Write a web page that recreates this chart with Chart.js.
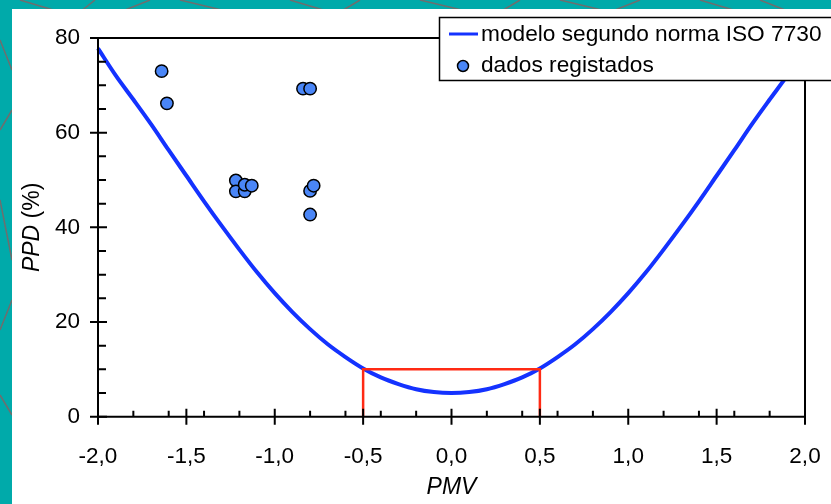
<!DOCTYPE html>
<html>
<head>
<meta charset="utf-8">
<script src="https://cdn.jsdelivr.net/npm/chart.js@4.4.1/dist/chart.umd.min.js"></script>
<style>
    html, body { margin: 0; padding: 0; background: #00aaaa; }
    #wrap { position: relative; width: 831px; height: 504px; }
</style>
</head>
<body>
<div id="wrap"><canvas id="ppdChart" width="831" height="504"></canvas></div>
<script>
// curve (PMV -> PPD)
const pmvCurve = [-2.0, -1.9, -1.8, -1.7, -1.6, -1.5, -1.4, -1.3, -1.2, -1.1, -1.0,
    -0.9, -0.8, -0.7, -0.6, -0.5, -0.4, -0.3, -0.2, -0.1, 0.0,
    0.1, 0.2, 0.3, 0.4, 0.5, 0.6, 0.7, 0.8, 0.9, 1.0,
    1.1, 1.2, 1.3, 1.4, 1.5, 1.6, 1.7, 1.8, 1.9, 2.0];
const ppdCurve = [77.8, 72.1, 67.0, 61.8, 56.3, 50.9, 45.5, 40.3, 35.3, 30.5, 26.1,
    22.1, 18.5, 15.3, 12.6, 10.2, 8.3, 6.9, 5.8, 5.2, 5.0,
    5.2, 5.8, 6.9, 8.3, 10.2, 12.6, 15.3, 18.5, 22.1, 26.1,
    30.5, 35.3, 40.3, 45.5, 50.9, 56.3, 61.8, 67.0, 72.1, 77.8];

// measured points
const pmvData = [-1.64, -1.61, -1.22, -1.22, -1.17, -1.17, -1.13, -0.84, -0.80, -0.80, -0.78, -0.80];
const ppdData = [73.0, 66.2, 49.9, 47.6, 47.6, 49.0, 48.8, 69.3, 69.3, 47.7, 48.8, 42.7];

// comfort box (PMV +-0.5, PPD 10 %)
const boxPmv = [-0.5, -0.5, 0.5, 0.5];
const boxPpd = [0, 10, 10, 0];

const xMajorTicks = [-2.0, -1.5, -1.0, -0.5, 0.0, 0.5, 1.0, 1.5, 2.0];
const xMinorTicks = [-1.8, -1.6, -1.4, -1.2, -0.8, -0.6, -0.4, -0.2, 0.2, 0.4, 0.6, 0.8, 1.2, 1.4, 1.6, 1.8];
const yMajorTicks = [0, 20, 40, 60, 80];
const yMinorTicks = [5, 10, 15, 25, 30, 35, 45, 50, 55, 65, 70, 75];

const labelCurve = "modelo segundo norma ISO 7730";
const labelPoints = "dados registados";

const FONT = "'Liberation Sans', Arial, sans-serif";
const fmt = v => v.toFixed(1).replace(".", ",");

const toXY = (xs, ys) => xs.map((x, i) => ({ x: x, y: ys[i] }));

// teal backdrop with a few grey strokes, white panel on top
const backdrop = {
    id: "backdrop",
    beforeDraw(chart) {
        const ctx = chart.ctx;
        ctx.save();
        ctx.fillStyle = "#00aaaa";
        ctx.fillRect(0, 0, chart.width, chart.height);
        ctx.strokeStyle = "#6e6e6e";
        ctx.lineWidth = 1.5;
        const lines = [[20, 0, 60, 12], [95, 0, 80, 12], [150, 0, 120, 12], [180, 0, 230, 12],
            [290, 0, 330, 12], [360, 0, 340, 12], [420, 0, 470, 12], [520, 0, 500, 12],
            [560, 0, 610, 12], [640, 0, 610, 12], [700, 0, 740, 12], [760, 0, 790, 12],
            [0, 40, 12, 70], [0, 130, 12, 110], [0, 200, 12, 260], [0, 330, 12, 300], [0, 395, 12, 415]];
        lines.forEach(l => {
            ctx.beginPath();
            ctx.moveTo(l[0], l[1]);
            ctx.lineTo(l[2], l[3]);
            ctx.stroke();
        });
        ctx.fillStyle = "#ffffff";
        ctx.fillRect(12, 9, chart.width - 12, chart.height - 9);
        ctx.restore();
    }
};

// frame, tick marks, axis titles and the legend box
const decorations = {
    id: "decorations",
    afterDatasetsDraw(chart) {
        const ctx = chart.ctx;
        const a = chart.chartArea;
        const xs = chart.scales.x;
        const ys = chart.scales.y;
        ctx.save();
        ctx.strokeStyle = "#000000";
        ctx.lineWidth = 2;
        ctx.beginPath();
        ctx.moveTo(a.left, a.bottom);
        ctx.lineTo(a.left, a.top);
        ctx.lineTo(a.right, a.top);
        ctx.lineTo(a.right, a.bottom);
        ctx.lineTo(a.left, a.bottom);
        ctx.stroke();

        ctx.beginPath();
        xMajorTicks.forEach(v => {
            const px = xs.getPixelForValue(v);
            ctx.moveTo(px, a.bottom - 8);
            ctx.lineTo(px, a.bottom + 8);
        });
        xMinorTicks.forEach(v => {
            const px = xs.getPixelForValue(v);
            ctx.moveTo(px, a.bottom - 6);
            ctx.lineTo(px, a.bottom);
        });
        yMajorTicks.forEach(v => {
            const py = ys.getPixelForValue(v);
            ctx.moveTo(a.left - 8, py);
            ctx.lineTo(a.left + 9, py);
        });
        yMinorTicks.forEach(v => {
            const py = ys.getPixelForValue(v);
            ctx.moveTo(a.left, py);
            ctx.lineTo(a.left + 8, py);
        });
        ctx.stroke();

        // axis titles
        ctx.fillStyle = "#000000";
        ctx.textBaseline = "middle";
        ctx.textAlign = "center";
        ctx.font = "italic 23px " + FONT;
        ctx.fillText("PMV", (a.left + a.right) / 2, 488);

        ctx.translate(33, (a.top + a.bottom) / 2);
        ctx.rotate(-Math.PI / 2);
        ctx.font = "italic 23px " + FONT;
        const w1 = ctx.measureText("PPD").width;
        ctx.font = "23px " + FONT;
        const w2 = ctx.measureText(" (%)").width;
        ctx.textAlign = "left";
        ctx.font = "italic 23px " + FONT;
        ctx.fillText("PPD", -(w1 + w2) / 2, 0);
        ctx.font = "23px " + FONT;
        ctx.fillText(" (%)", -(w1 + w2) / 2 + w1, 0);
        ctx.restore();

        // legend
        const curve = chart.data.datasets[0];
        const pts = chart.data.datasets[1];
        ctx.save();
        ctx.fillStyle = "#ffffff";
        ctx.fillRect(439, 17, 420, 63);
        ctx.strokeStyle = "#000000";
        ctx.lineWidth = 1.5;
        ctx.strokeRect(439.5, 17.5, 420, 63);
        ctx.strokeStyle = curve.borderColor;
        ctx.lineWidth = 3;
        ctx.beginPath();
        ctx.moveTo(449, 34);
        ctx.lineTo(478, 34);
        ctx.stroke();
        ctx.fillStyle = pts.backgroundColor;
        ctx.strokeStyle = pts.borderColor;
        ctx.lineWidth = 1.5;
        ctx.beginPath();
        ctx.arc(463, 66, 5.5, 0, Math.PI * 2);
        ctx.fill();
        ctx.stroke();
        ctx.fillStyle = "#000000";
        ctx.font = "22.7px " + FONT;
        ctx.textAlign = "left";
        ctx.textBaseline = "middle";
        ctx.fillText(curve.label, 481, 35);
        ctx.fillText(pts.label, 481, 66);
        ctx.restore();
    }
};

new Chart(document.getElementById("ppdChart"), {
    type: "scatter",
    data: {
        datasets: [
            {
                label: labelCurve,
                data: toXY(pmvCurve, ppdCurve),
                showLine: true,
                borderColor: "#1432ff",
                borderWidth: 4,
                pointRadius: 0,
                cubicInterpolationMode: "monotone",
                clip: 6,
                order: 3
            },
            {
                label: labelPoints,
                data: toXY(pmvData, ppdData),
                backgroundColor: "#4a86f7",
                borderColor: "#000000",
                borderWidth: 1.5,
                pointRadius: 6.2,
                order: 1
            },
            {
                label: "box",
                data: toXY(boxPmv, boxPpd),
                showLine: true,
                borderColor: "#ff2a14",
                borderWidth: 2.5,
                pointRadius: 0,
                order: 2
            }
        ]
    },
    plugins: [backdrop, decorations],
    options: {
        responsive: false,
        animation: false,
        events: [],
        layout: { padding: { top: 38, right: 26, left: 0, bottom: 0 } },
        plugins: {
            legend: { display: false },
            tooltip: { enabled: false }
        },
        scales: {
            x: {
                type: "linear",
                min: -2,
                max: 2,
                afterBuildTicks: s => { s.ticks = xMajorTicks.map(v => ({ value: v })); },
                afterFit: s => { s.height = 87.3; s.paddingLeft = 0; s.paddingRight = 0; },
                grid: { display: false, drawTicks: false },
                border: { display: false },
                ticks: {
                    padding: 27,
                    color: "#000000",
                    font: { family: FONT, size: 22.5 },
                    callback: v => fmt(v)
                }
            },
            y: {
                type: "linear",
                min: 0,
                max: 80,
                afterBuildTicks: s => { s.ticks = yMajorTicks.map(v => ({ value: v })); },
                afterFit: s => { s.width = 98; s.paddingTop = 0; s.paddingBottom = 0; },
                grid: { display: false, drawTicks: false },
                border: { display: false },
                ticks: {
                    padding: 18,
                    color: "#000000",
                    font: { family: FONT, size: 22.5 }
                }
            }
        }
    }
});
</script>
</body>
</html>
